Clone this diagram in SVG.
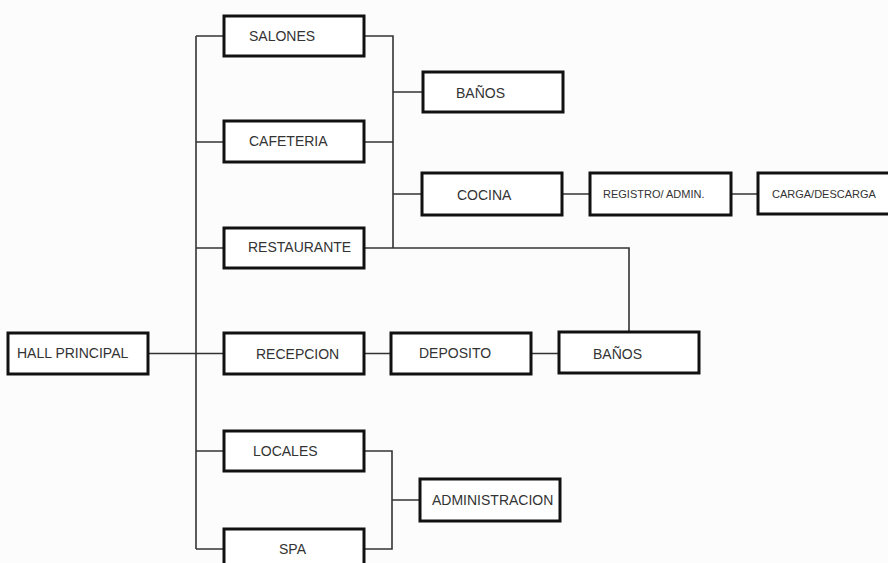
<svg xmlns="http://www.w3.org/2000/svg" width="888" height="563" viewBox="0 0 888 563">
<style>
.box{fill:#ffffff;stroke:#111;stroke-width:3}
.lbl{font-family:"Liberation Sans",Arial,sans-serif;font-size:14px;fill:#333}
.sm{font-size:11px}
.con{fill:none;stroke:#333;stroke-width:1.6}
</style>
<rect x="0" y="0" width="888" height="563" fill="#fcfcfc"/>
<g id="connectors">
<path class="con" d="M148 353.5H224"/>
<path class="con" d="M196 36V549"/>
<path class="con" d="M196 36H224M196 142H224M196 248H224M196 451H224M196 549H224"/>
<path class="con" d="M364 36H393V248M364 142H393M364 248H629V332"/>
<path class="con" d="M393 92H423M393 194H422"/>
<path class="con" d="M562 194H590M731 194H758"/>
<path class="con" d="M364 353.5H391M531 353.5H559"/>
<path class="con" d="M364 451H392V549H364M392 500H420"/>
</g>
<g id="hall"><rect class="box" x="8" y="333" width="140" height="41"/><text class="lbl" x="17" y="358">HALL PRINCIPAL</text></g>
<g id="salones"><rect class="box" x="224" y="16" width="140" height="40"/><text class="lbl" x="249" y="41">SALONES</text></g>
<g id="cafeteria"><rect class="box" x="224" y="121" width="140" height="41"/><text class="lbl" x="249" y="146">CAFETERIA</text></g>
<g id="restaurante"><rect class="box" x="224" y="228" width="140" height="40"/><text class="lbl" x="248" y="252">RESTAURANTE</text></g>
<g id="recepcion"><rect class="box" x="224" y="333" width="140" height="41"/><text class="lbl" x="256" y="359">RECEPCION</text></g>
<g id="locales"><rect class="box" x="224" y="431" width="140" height="40"/><text class="lbl" x="253" y="456">LOCALES</text></g>
<g id="spa"><rect class="box" x="224" y="529" width="140" height="45"/><text class="lbl" x="279" y="554">SPA</text></g>
<g id="banos1"><rect class="box" x="423" y="72" width="140" height="40"/><text class="lbl" x="456" y="98">BAÑOS</text></g>
<g id="cocina"><rect class="box" x="422" y="173" width="140" height="42"/><text class="lbl" x="457" y="200">COCINA</text></g>
<g id="registro"><rect class="box" x="590" y="173" width="141" height="42"/><text class="lbl sm" x="603" y="198">REGISTRO/ ADMIN.</text></g>
<g id="carga"><rect class="box" x="758" y="173" width="140" height="41"/><text class="lbl sm" x="772" y="198">CARGA/DESCARGA</text></g>
<g id="deposito"><rect class="box" x="391" y="333" width="140" height="41"/><text class="lbl" x="419" y="358">DEPOSITO</text></g>
<g id="banos2"><rect class="box" x="559" y="332" width="140" height="41"/><text class="lbl" x="593" y="359">BAÑOS</text></g>
<g id="administracion"><rect class="box" x="420" y="479" width="140" height="42"/><text class="lbl" x="432" y="505">ADMINISTRACION</text></g>
</svg>
